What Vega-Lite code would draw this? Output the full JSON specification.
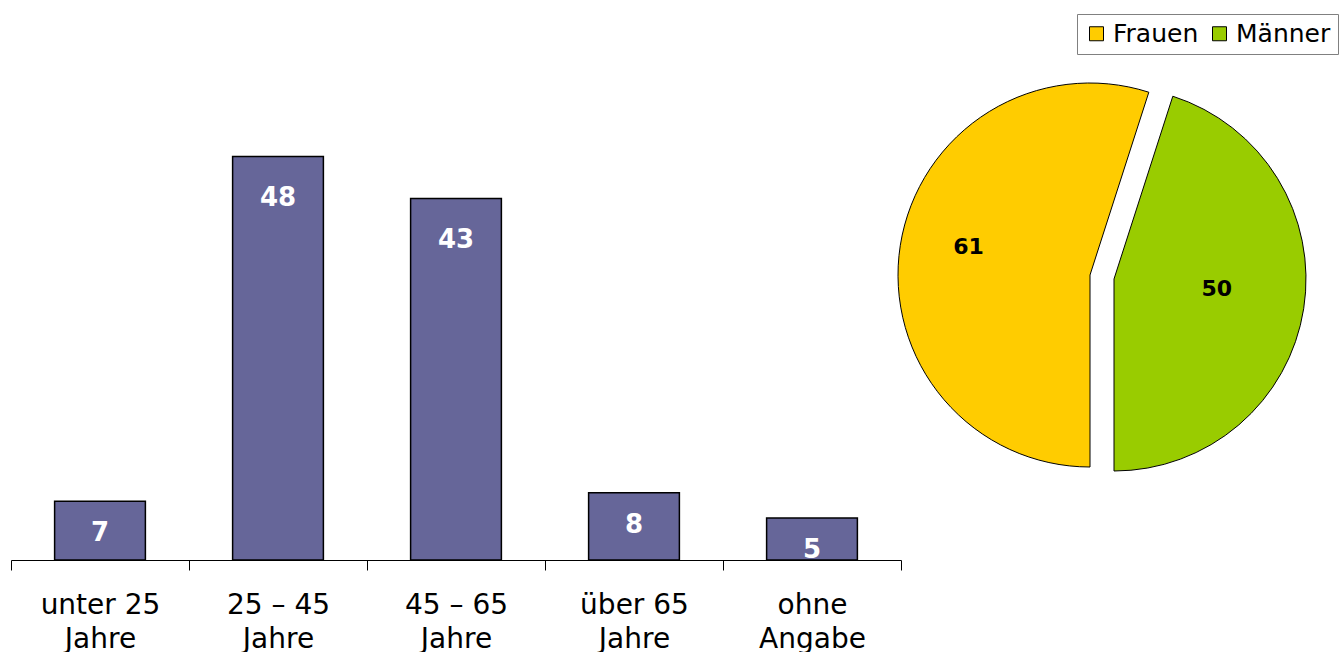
{
  "$schema": "https://vega.github.io/schema/vega-lite/v6.json",
  "padding": {"left": 10, "top": 0, "right": 0, "bottom": 0},
  "background": "white",
  "spacing": 0,
  "bounds": "flush",
  "config": {"view": {"stroke": null}, "font": "DejaVu Sans"},
  "datasets": {
    "alter": [
      {"gruppe": "unter 25 Jahre", "anzahl": 7},
      {"gruppe": "25 – 45 Jahre", "anzahl": 48},
      {"gruppe": "45 – 65 Jahre", "anzahl": 43},
      {"gruppe": "über 65 Jahre", "anzahl": 8},
      {"gruppe": "ohne Angabe", "anzahl": 5}
    ],
    "geschlecht": [
      {"geschlecht": "Frauen", "anzahl": 61},
      {"geschlecht": "Männer", "anzahl": 50}
    ]
  },
  "hconcat": [
    {
      "width": 890,
      "height": 560,
      "data": {"name": "alter"},
      "encoding": {
        "x": {
          "field": "gruppe",
          "type": "nominal",
          "sort": null,
          "scale": {"paddingInner": 0, "paddingOuter": 0},
          "axis": {
            "title": null,
            "labelAngle": 0,
            "tickBand": "extent",
            "domainColor": "#000000",
            "domainWidth": 1,
            "tickColor": "#000000",
            "tickWidth": 1,
            "tickSize": 10,
            "labelFont": "DejaVu Sans",
            "labelFontSize": 28,
            "labelColor": "#000000",
            "labelLineHeight": 34,
            "labelPadding": 21,
            "labelLimit": 0,
            "labelExpr": "[slice(datum.label, 0, lastindexof(datum.label, ' ')), slice(datum.label, lastindexof(datum.label, ' ') + 1)]"
          }
        },
        "y": {
          "field": "anzahl",
          "type": "quantitative",
          "scale": {"domain": [0, 66.6], "nice": false, "zero": true},
          "axis": null
        }
      },
      "layer": [
        {
          "mark": {"type": "bar", "width": {"band": 0.51}, "fill": "#666699", "stroke": "#000000", "strokeWidth": 1.5}
        },
        {
          "transform": [{"filter": "datum.anzahl > 10"}],
          "mark": {"type": "text", "dy": 42, "baseline": "middle", "align": "center", "color": "#FFFFFF", "fontWeight": "bold", "fontSize": 26},
          "encoding": {"text": {"field": "anzahl", "type": "quantitative"}}
        },
        {
          "transform": [{"filter": "datum.anzahl <= 10"}],
          "mark": {"type": "text", "dy": 32, "baseline": "middle", "align": "center", "color": "#FFFFFF", "fontWeight": "bold", "fontSize": 26},
          "encoding": {"text": {"field": "anzahl", "type": "quantitative"}}
        }
      ]
    },
    {
      "width": 402,
      "height": 554,
      "data": {"name": "geschlecht"},
      "encoding": {
        "theta": {"field": "anzahl", "type": "quantitative", "stack": true, "scale": {"range": [3.14159265, 9.42477796]}},
        "order": {"field": "geschlecht", "type": "nominal", "sort": "ascending"},
        "color": {
          "field": "geschlecht",
          "type": "nominal",
          "scale": {"domain": ["Frauen", "Männer"], "range": ["#FFCC00", "#99CC00"]},
          "legend": {
            "title": null,
            "orient": "none",
            "legendX": 1066,
            "legendY": 14,
            "direction": "horizontal",
            "symbolType": "square",
            "symbolSize": 196,
            "symbolStrokeColor": "#000000",
            "symbolStrokeWidth": 1,
            "symbolOpacity": 1,
            "labelFont": "DejaVu Sans",
            "labelFontSize": 25,
            "labelColor": "#000000",
            "labelOffset": 4,
            "columnPadding": 8,
            "padding": 7,
            "strokeColor": "#808080",
            "fillColor": "#FFFFFF"
          }
        }
      },
      "layer": [
        {
          "mark": {"type": "arc", "outerRadius": 192, "stroke": "#000000", "strokeWidth": 1, "xOffset": -12, "yOffset": -2},
          "encoding": {"opacity": {"condition": {"test": "datum.geschlecht == 'Frauen'", "value": 1}, "value": 0}}
        },
        {
          "mark": {"type": "arc", "outerRadius": 192, "stroke": "#000000", "strokeWidth": 1, "xOffset": 12, "yOffset": 2},
          "encoding": {"opacity": {"condition": {"test": "datum.geschlecht == 'Männer'", "value": 1}, "value": 0}}
        },
        {
          "mark": {"type": "text", "radius": 124, "fontWeight": "bold", "fontSize": 22, "baseline": "middle", "align": "center", "xOffset": -11, "yOffset": -11},
          "encoding": {
            "text": {"field": "anzahl", "type": "quantitative"},
            "fill": {"value": "#000000"},
            "opacity": {"condition": {"test": "datum.geschlecht == 'Frauen'", "value": 1}, "value": 0}
          }
        },
        {
          "mark": {"type": "text", "radius": 103, "fontWeight": "bold", "fontSize": 22, "baseline": "middle", "align": "center", "xOffset": 13, "yOffset": -4},
          "encoding": {
            "text": {"field": "anzahl", "type": "quantitative"},
            "fill": {"value": "#000000"},
            "opacity": {"condition": {"test": "datum.geschlecht == 'Männer'", "value": 1}, "value": 0}
          }
        }
      ]
    }
  ]
}
